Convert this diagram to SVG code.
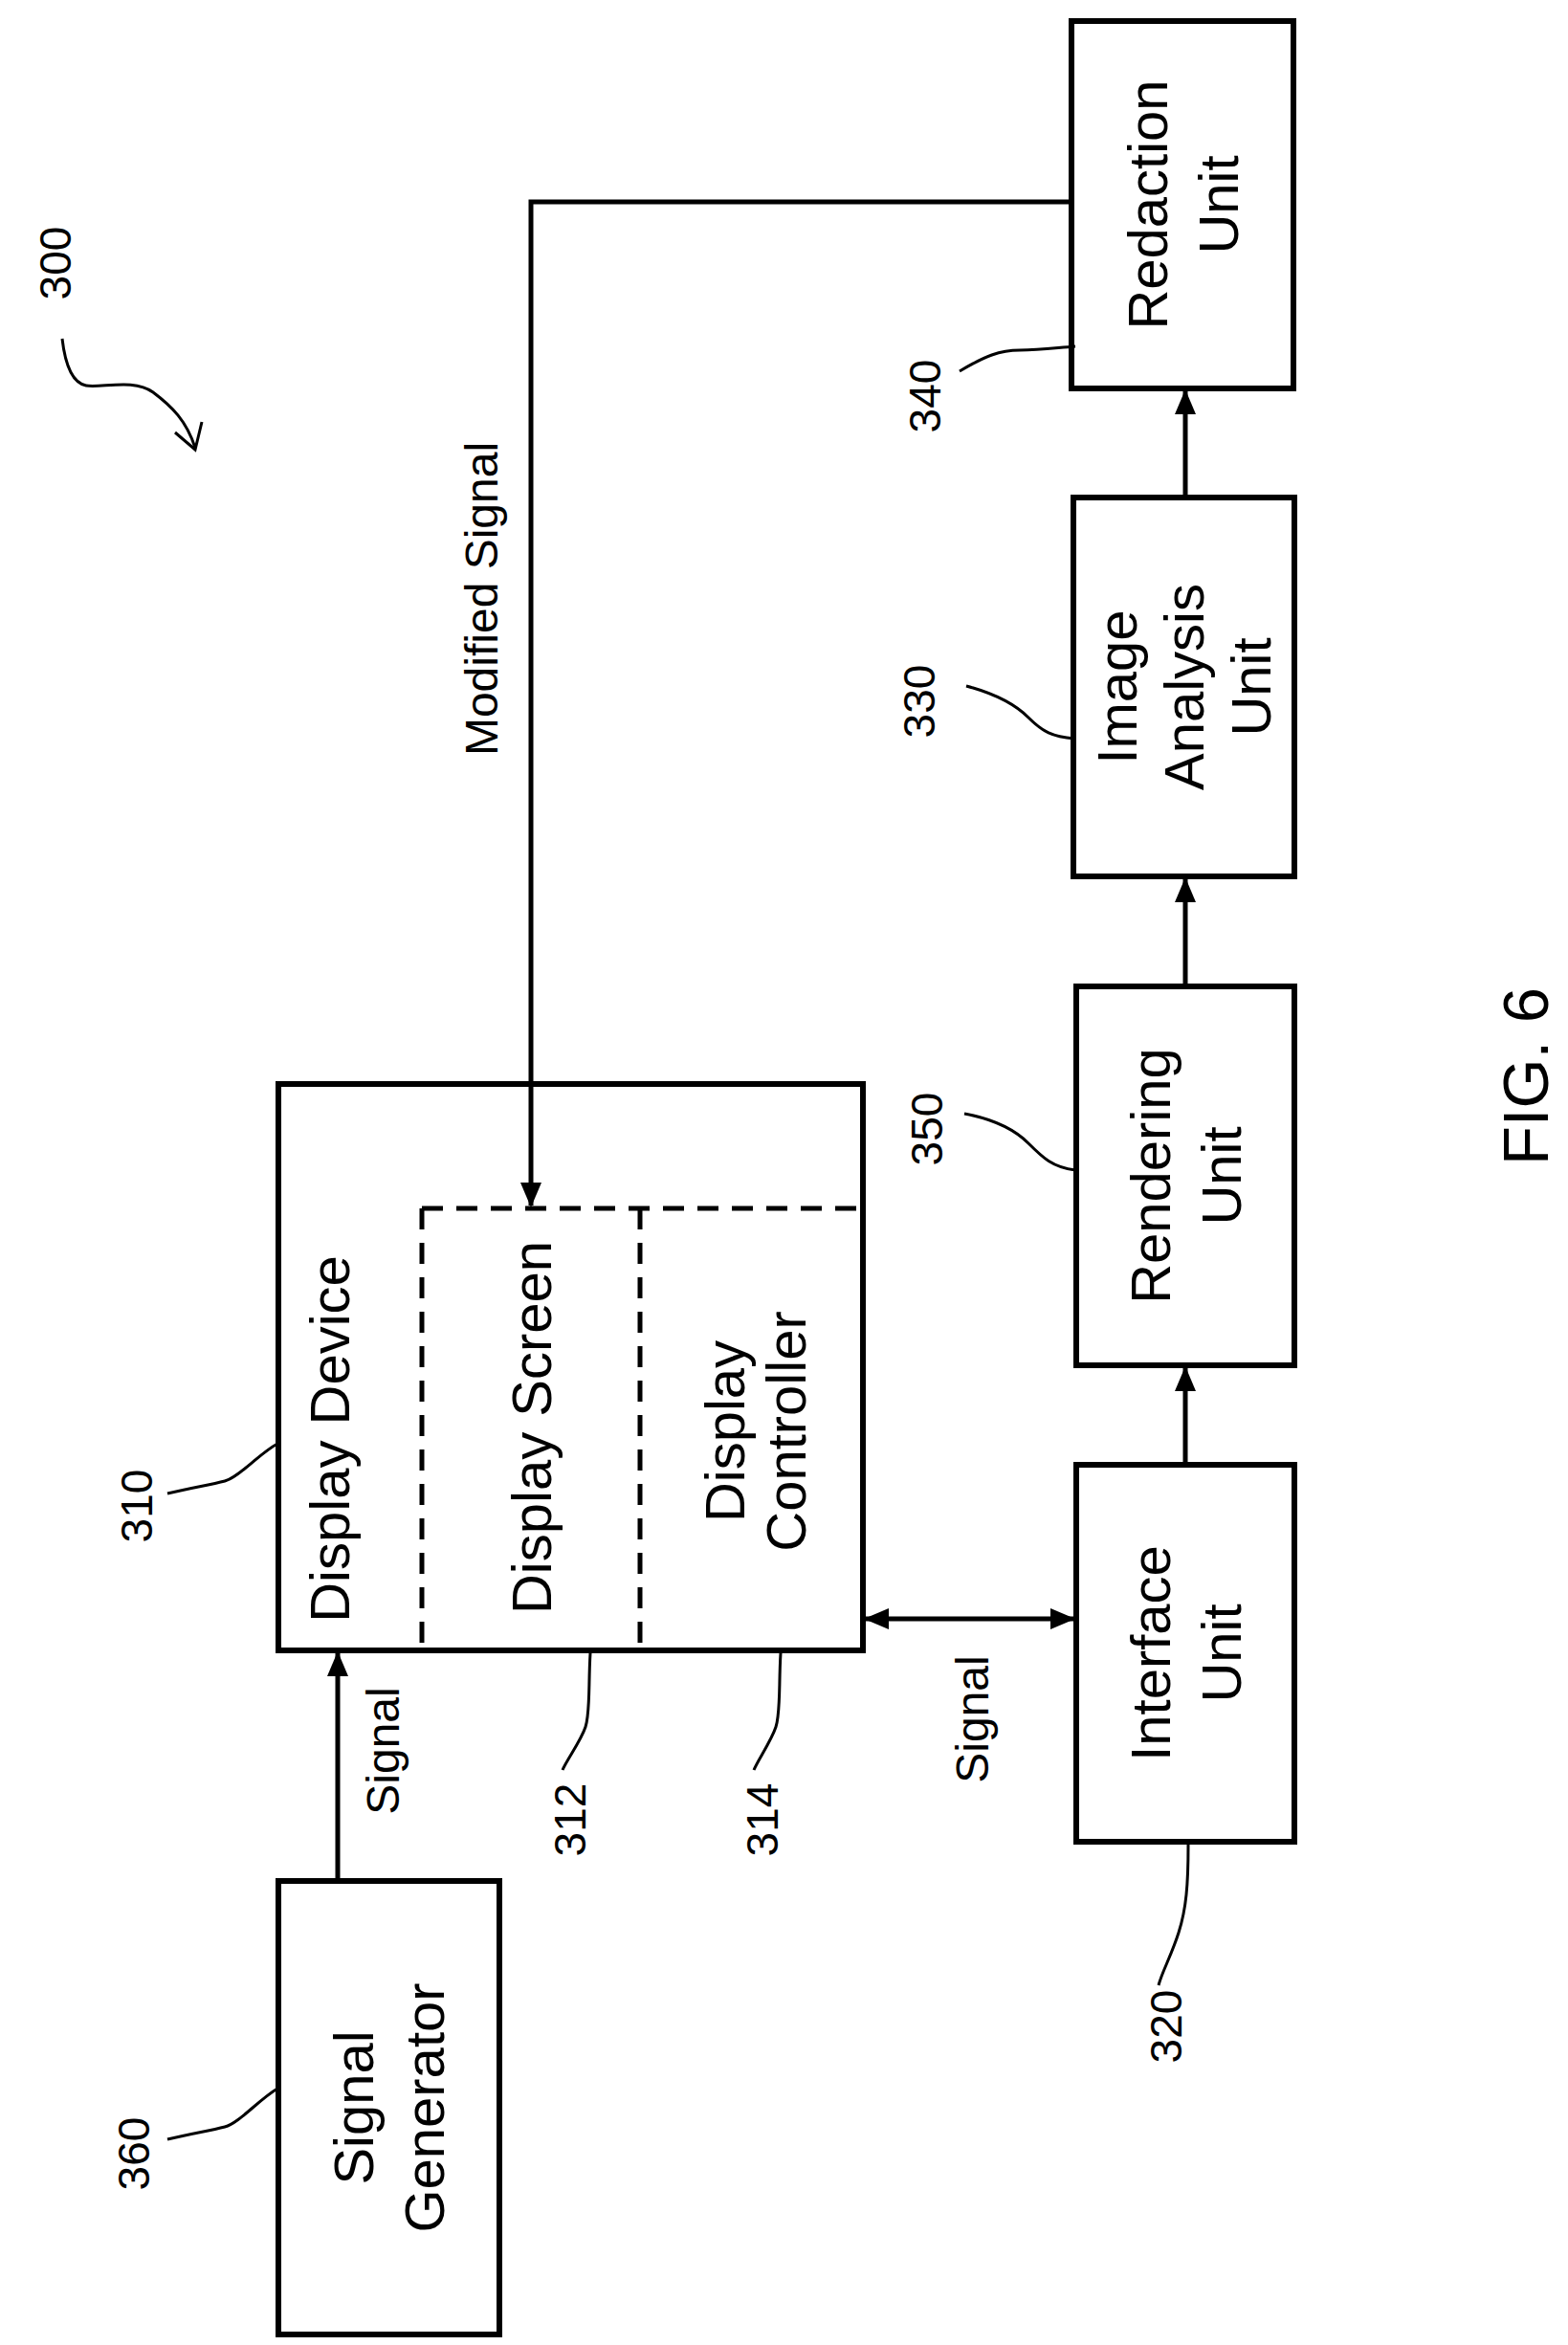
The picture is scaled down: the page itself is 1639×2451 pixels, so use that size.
<svg xmlns="http://www.w3.org/2000/svg" width="1639" height="2451" viewBox="0 0 1639 2451">
<style>
.box{fill:#fff;stroke:#000;stroke-width:6}
.ln{fill:none;stroke:#000;stroke-width:5}
.dash{fill:none;stroke:#000;stroke-width:5;stroke-dasharray:22 14}
.lead{fill:none;stroke:#000;stroke-width:3}
text{font-family:"Liberation Sans",Arial,sans-serif;fill:#000;text-anchor:middle;dominant-baseline:central}
.t{font-size:58px}
.s{font-size:48px}
.r{font-size:46px}
.f{font-size:67px}
</style>
<defs>
<marker id="ah" markerUnits="userSpaceOnUse" markerWidth="26" markerHeight="22" refX="24" refY="11" orient="auto-start-reverse"><path d="M0,0 L26,11 L0,22 Z" fill="#000"/></marker>
</defs>
<rect width="1639" height="2451" fill="#fff"/>
<g id="n340">
<rect class="box" x="1120" y="22" width="232" height="384"/>
<text class="t" transform="translate(1236,214) rotate(-90)"><tspan x="0" y="-37">Redaction</tspan><tspan x="0" y="37">Unit</tspan></text>
<path class="lead" d="M1003,388 C1030,372 1045,366 1066,366 S1100,364 1124,362"/>
<text class="r" transform="translate(967,414) rotate(-90)">340</text>
</g>
<g id="n330">
<rect class="box" x="1122" y="520" width="231" height="396"/>
<text class="t" transform="translate(1237,718) rotate(-90)"><tspan x="0" y="-70">Image</tspan><tspan x="0" y="0">Analysis</tspan><tspan x="0" y="70">Unit</tspan></text>
<path class="lead" d="M1010,717 C1040,725 1060,735 1075,750 S1100,770 1123,772"/>
<text class="r" transform="translate(961,733) rotate(-90)">330</text>
</g>
<g id="n350">
<rect class="box" x="1125" y="1031" width="228" height="396"/>
<text class="t" transform="translate(1239,1229) rotate(-90)"><tspan x="0" y="-37">Rendering</tspan><tspan x="0" y="37">Unit</tspan></text>
<path class="lead" d="M1008,1164 C1040,1170 1060,1180 1075,1195 S1100,1220 1124,1223"/>
<text class="r" transform="translate(969,1180) rotate(-90)">350</text>
</g>
<g id="n320">
<rect class="box" x="1125" y="1531" width="228" height="394"/>
<text class="t" transform="translate(1239,1728) rotate(-90)"><tspan x="0" y="-37">Interface</tspan><tspan x="0" y="37">Unit</tspan></text>
<path class="lead" d="M1242,1928 C1242,1970 1240,1995 1232,2020 S1215,2060 1211,2075"/>
<text class="r" transform="translate(1219,2118) rotate(-90)">320</text>
</g>
<g id="n310">
<rect class="box" x="291" y="1133" width="611" height="592"/>
<path class="dash" d="M441,1263 H902"/>
<path class="dash" d="M441,1263 V1725"/>
<path class="dash" d="M669,1263 V1725"/>
<text class="t" transform="translate(344,1504) rotate(-90)">Display Device</text>
<path class="lead" d="M175,1561 C200,1555 220,1552 235,1548 S270,1520 290,1509"/>
<text class="r" transform="translate(143,1574) rotate(-90)">310</text>
</g>
<g id="n312">
<text class="t" transform="translate(555,1492) rotate(-90)">Display Screen</text>
<path class="lead" d="M617,1728 C615,1760 617,1790 612,1805 S592,1840 588,1850"/>
<text class="r" transform="translate(596,1902) rotate(-90)">312</text>
</g>
<g id="n314">
<text class="t" transform="translate(789,1496) rotate(-90)"><tspan x="0" y="-32">Display</tspan><tspan x="0" y="32">Controller</tspan></text>
<path class="lead" d="M816,1728 C814,1760 816,1790 811,1805 S792,1840 788,1850"/>
<text class="r" transform="translate(797,1902) rotate(-90)">314</text>
</g>
<g id="n360">
<rect class="box" x="291" y="1966" width="231" height="474"/>
<text class="t" transform="translate(406,2203) rotate(-90)"><tspan x="0" y="-37">Signal</tspan><tspan x="0" y="37">Generator</tspan></text>
<path class="lead" d="M175,2236 C200,2230 220,2227 235,2223 S270,2195 290,2183"/>
<text class="r" transform="translate(140,2251) rotate(-90)">360</text>
</g>
<g id="n300">
<text class="r" transform="translate(58,275) rotate(-90)">300</text>
<path class="lead" d="M65,354 C68,380 75,400 90,403 S140,395 160,410 S195,440 204,468"/>
<path class="lead" d="M183,452 L204,470 L211,441"/>
</g>
<text class="f" transform="translate(1594,1125) rotate(-90)">FIG. 6</text>
<g id="connectors">
<path class="ln" d="M1120,211 H555 V1260" marker-end="url(#ah)"/>
<path class="ln" d="M353,1966 V1728" marker-end="url(#ah)"/>
<path class="ln" d="M905,1692 H1122" marker-start="url(#ah)" marker-end="url(#ah)"/>
<path class="ln" d="M1239,1531 V1430" marker-end="url(#ah)"/>
<path class="ln" d="M1239,1031 V919" marker-end="url(#ah)"/>
<path class="ln" d="M1239,520 V409" marker-end="url(#ah)"/>
<text class="s" transform="translate(503,626) rotate(-90)">Modified Signal</text>
<text class="s" transform="translate(400,1830) rotate(-90)">Signal</text>
<text class="s" transform="translate(1016,1797) rotate(-90)">Signal</text>
</g>
</svg>
